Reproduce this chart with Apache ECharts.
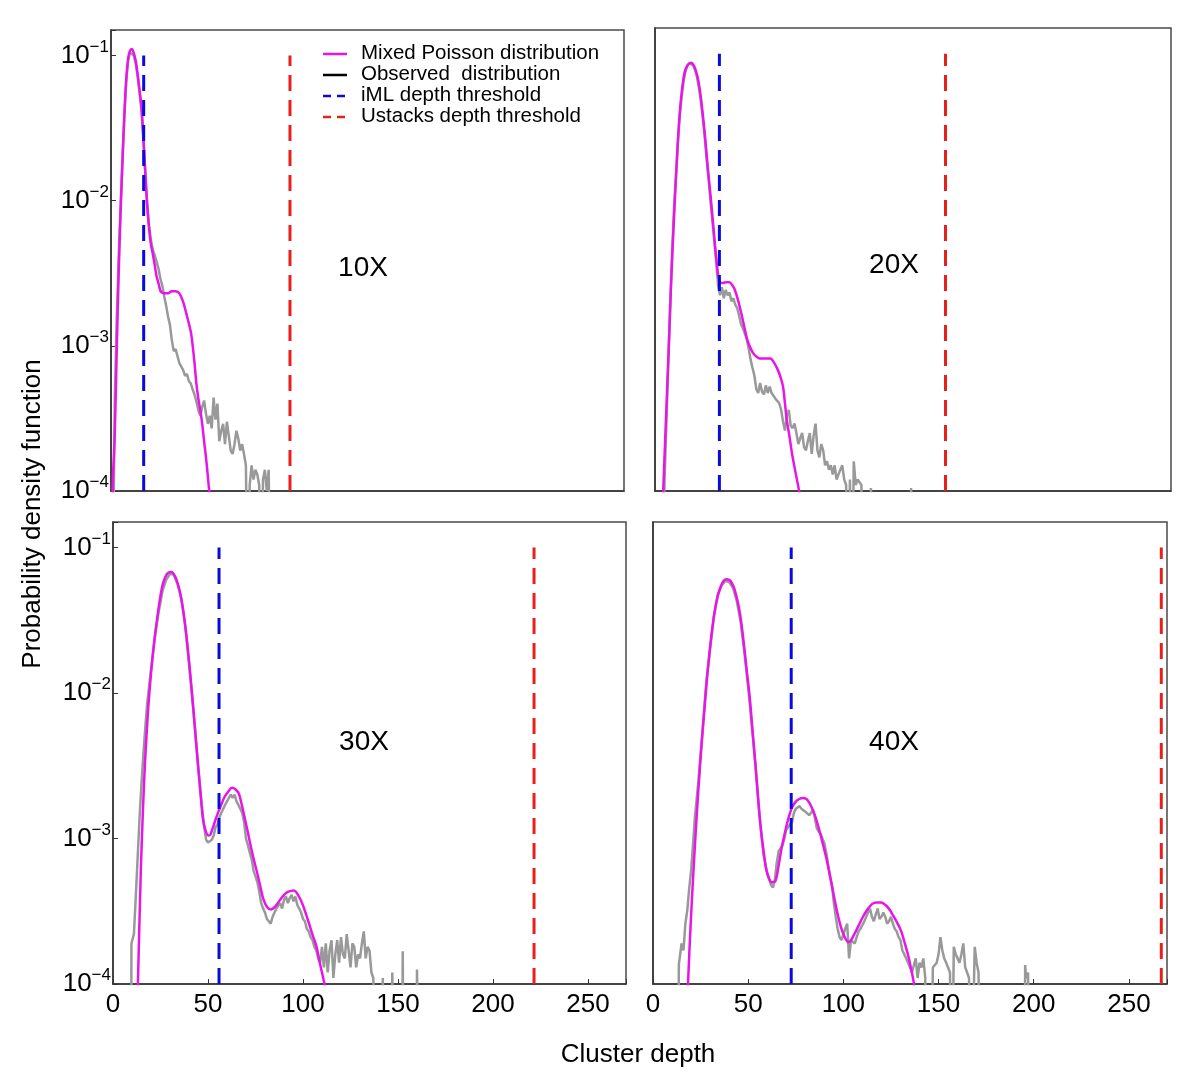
<!DOCTYPE html>
<html>
<head>
<meta charset="utf-8">
<script src="https://cdn.jsdelivr.net/npm/echarts@6/dist/echarts.min.js"></script>
<style>
html,body{margin:0;padding:0;background:#fff;}
#chart{width:1200px;height:1091px;}
</style>
</head>
<body>
<div id="chart"></div>
<script>
// ---- Data ----
const panelLabels = ['10X', '20X', '30X', '40X'];
const imlThreshold = [17.2, 33.7, 55.8, 72.6];
const ustacksThreshold = [94.2, 152, 221.6, 267];
const xTicks = [0, 50, 100, 150, 200, 250];
const yTickExponents = [-1, -2, -3, -4];

const mixed10 = [[0.6,5e-5],[1,1.2e-4],[2,2.5e-4],[3,9e-4],[4,3e-3],[5,8e-3],[6,0.018],[7,0.038],[8,0.068],[9,0.095],[10,0.108],[11,0.111],[12,0.104],[13,0.092],[14,0.075],[15,0.058],[16,0.045],[17,0.028],[18,0.016],[19,0.0095],[20,0.0065],[21,0.005],[22,0.0043],[23,0.0036],[24,0.003],[25,0.0027],[26,0.0024],[27,0.00232],[28,0.0023],[30,0.0023],[32,0.00238],[34,0.00238],[36,0.0023],[38,0.002],[40,0.0016],[42,0.00125],[43,0.001],[44,7.5e-4],[45,5.4e-4],[46,4.3e-4],[47,3.6e-4],[48,2.9e-4],[49,2.2e-4],[50,1.7e-4],[51,1.25e-4],[52,9e-5],[53,6e-5]];
const observed10 = [[1,1e-5],[1.5,1e-4],[2,4.4e-4],[3,1.5e-3],[4,4e-3],[5,9e-3],[6,0.019],[7,0.038],[8,0.066],[9,0.092],[10,0.105],[11,0.108],[12,0.1],[13,0.088],[14,0.072],[15,0.056],[16,0.042],[17,0.027],[18,0.016],[19,0.0098],[20,0.0068],[21,0.0054],[22,0.0046],[23,0.0042],[24,0.0038],[25,0.0034],[26,0.0029],[27,0.0026],[28,0.0022],[29,0.0019],[30,0.0016],[31,0.0014],[32,0.0011],[33,0.00092],[34,0.00095],[35,0.00085],[36,0.00076],[37,0.00072],[38,0.00068],[39,0.00062],[40,0.00064],[41,0.00057],[42,0.00055],[43,0.0005],[44,0.00046],[45,0.00041],[46,0.00036],[47,0.00033],[48,0.00038],[49,0.00042],[50,0.00034],[51,0.00029],[52,0.00033],[53,0.00027],[54,0.00044],[55,0.00031],[56,0.0004],[57,0.00022],[58,0.00026],[59,0.00029],[60,0.00021],[61,0.0003],[62,0.00024],[63,0.00019],[64,0.00018],[65,0.00021],[66,0.00026],[67,0.00023],[68,0.00019],[69,0.00021],[70,0.00018],[71,0.00015],[72,1e-5],[73,0.00011],[74,0.00015],[75,0.00012],[76,0.00014],[77,0.00013],[78,0.00011],[79,1e-5],[80,0.00012],[81,0.00014],[82,0.0001],[83,0.00014],[84,1e-5]];

const mixed20 = [[3.5,5e-5],[4.3,1e-4],[5.5,2.6e-4],[7.1,8.9e-4],[8.5,2.8e-3],[9.9,0.0073],[11.3,0.017],[12.7,0.0356],[14.1,0.056],[15.5,0.0746],[17.2,0.084],[18.9,0.0867],[20.5,0.082],[22.1,0.0708],[23.5,0.056],[24.9,0.0396],[26.3,0.026],[27.7,0.0161],[29.1,0.0105],[30.5,0.00658],[31.7,0.0044],[32.9,0.00313],[34,0.0027],[35.2,0.00267],[37,0.0027],[38.9,0.0027],[40.3,0.0026],[41.7,0.00241],[43.6,0.002],[45.5,0.00158],[46.9,0.0013],[48.3,0.00109],[50.2,9.4e-4],[52,8.6e-4],[54,8.2e-4],[55.8,8.1e-4],[58,8.1e-4],[60.4,8.1e-4],[62.3,7.6e-4],[64.2,6.8e-4],[65.6,6.1e-4],[67,5.2e-4],[68,4e-4],[68.9,3.1e-4],[70.3,2.4e-4],[71.7,1.8e-4],[73.5,1.35e-4],[75.4,1e-4],[76.5,8e-5]];
const observed20 = [[4,1e-5],[5,1.2e-4],[6,3e-4],[7,8e-4],[8,2e-3],[9,4.5e-3],[10,9e-3],[11,0.015],[12,0.025],[13,0.038],[14,0.052],[15,0.065],[16,0.076],[17,0.083],[18,0.086],[19,0.086],[20,0.083],[21,0.077],[22,0.069],[23,0.058],[24,0.047],[25,0.036],[26,0.027],[27,0.019],[28,0.014],[29,0.0098],[30,0.0072],[31,0.0052],[32,0.0038],[33,0.0026],[34,0.0022],[35,0.0025],[36,0.0021],[37,0.0024],[38,0.0022],[39,0.0023],[40,0.002],[41,0.0021],[42,0.0019],[43,0.0018],[44,0.0016],[45,0.0014],[46,0.0013],[47,0.0012],[48,0.0011],[49,0.00095],[50,0.0008],[51,0.0007],[52,0.00062],[53,0.0005],[54,0.00047],[55,0.00055],[56,0.00048],[57,0.00046],[58,0.00053],[59,0.00047],[60,0.00052],[61,0.00047],[62,0.00045],[63,0.00043],[64,0.00042],[65,0.0004],[66,0.00036],[67,0.0003],[68,0.00026],[69,0.00033],[70,0.00036],[71,0.00028],[72,0.00027],[73,0.00029],[74,0.00025],[75,0.00021],[76,0.00023],[77,0.00025],[78,0.0002],[79,0.00019],[80,0.00022],[81,0.00025],[82,0.00018],[83,0.00024],[84,0.00029],[85,0.00019],[86,0.00017],[87,0.00021],[88,0.00019],[89,0.00015],[90,0.00016],[91,0.00014],[92,0.00015],[93,0.00013],[94,0.00015],[95,0.00012],[96,0.00013],[97,0.00014],[98,0.00015],[99,0.00012],[100,0.00011],[101,1e-5],[102,0.00012],[103,1e-5],[104,0.00016],[105,0.00011],[106,0.00012],[107,0.00012],[108,0.00011],[109,1e-5],[112,1e-5],[113,0.000105],[114,1e-5],[133,1e-5],[134,0.000105],[135,1e-5]];

const mixed30 = [[12.5,5e-5],[13.1,1e-4],[14.6,5.8e-4],[15.7,1.5e-3],[16.8,0.00324],[18.4,0.0074],[20,0.0136],[21.6,0.022],[23.2,0.0322],[24.8,0.045],[26.4,0.0573],[28.5,0.066],[30.7,0.0681],[32.8,0.063],[35,0.051],[36.7,0.039],[38.3,0.0271],[39.9,0.0172],[41.5,0.0102],[43.1,0.0058],[44.7,0.00324],[46,0.0021],[47.3,0.00137],[48.7,0.00114],[50.1,0.00105],[51.2,0.00106],[52.2,0.00115],[53.8,0.00133],[55.5,0.00153],[57.1,0.00173],[58.7,0.00193],[60.6,0.0021],[62.6,0.00223],[64.4,0.00218],[66.2,0.00204],[67.8,0.0017],[69.4,0.00137],[71,0.0011],[72.7,8.6e-4],[74.3,7e-4],[75.9,5.8e-4],[77.5,4.7e-4],[79.1,3.85e-4],[81,3.4e-4],[83,3.25e-4],[85.3,3.4e-4],[87.7,3.75e-4],[90,4.1e-4],[92,4.3e-4],[95.2,4.4e-4],[98.5,3.85e-4],[100.6,3.3e-4],[102.8,2.7e-4],[104.9,2.2e-4],[107,1.83e-4],[109.1,1.35e-4],[111.3,1e-4],[112.5,8e-5]];
const observed30 = [[9.5,1e-5],[9.7,1.9e-4],[10,1.9e-4],[11,2.2e-4],[12,4e-4],[13,7.5e-4],[14,1.4e-3],[15,2.4e-3],[16,3.8e-3],[17,5.8e-3],[18,8.5e-3],[20,0.0145],[22,0.024],[24,0.036],[26,0.05],[28,0.06],[30,0.066],[32,0.065],[34,0.056],[36,0.044],[38,0.029],[40,0.016],[42,0.0085],[44,0.0042],[46,0.0021],[48,0.0012],[49,0.00098],[50,0.00094],[51,0.00093],[52,0.00098],[53,0.00105],[54,0.0012],[55,0.00125],[56,0.0014],[57,0.0015],[58,0.0016],[59,0.0017],[60,0.0018],[61,0.0019],[62,0.002],[63,0.0019],[64,0.002],[65,0.0018],[66,0.0017],[67,0.0016],[68,0.0015],[69,0.0013],[70,0.001],[71,0.0009],[72,0.0008],[73,0.00072],[74,0.0006],[75,0.00055],[76,0.0005],[77,0.00043],[78,0.00036],[79,0.00033],[80,0.00031],[81,0.00028],[82,0.00027],[83,0.00026],[84,0.00029],[85,0.00031],[86,0.00033],[87,0.00034],[88,0.00036],[89,0.00033],[90,0.00038],[91,0.0004],[92,0.00036],[93,0.00039],[94,0.00041],[95,0.00037],[96,0.0004],[97,0.00035],[98,0.00033],[99,0.00031],[100,0.00028],[101,0.00027],[102,0.00024],[103,0.00023],[104,0.00021],[105,0.0002],[106,0.00018],[107,0.00017],[108,0.00015],[109,0.00014],[110,0.00018],[111,0.00013],[112,0.00019],[113,0.00012],[114,0.00017],[115,0.0002],[116,0.00011],[117,0.00016],[118,0.0002],[119,0.00014],[120,0.00021],[121,0.00016],[122,0.00015],[123,0.00022],[124,0.00017],[125,0.00013],[126,0.00019],[127,0.00018],[128,0.00013],[129,0.00016],[130,0.00015],[131,0.00019],[132,0.00023],[133,0.00015],[134,0.00018],[135,0.00017],[136,0.00012],[137,0.00011],[138,0.00011],[139,1e-5],[141,1e-5],[142,0.00011],[143,1e-5],[146,1e-5],[147,0.00012],[148,1e-5],[152,1e-5],[152.5,0.000168],[153,1e-5],[159.5,1e-5],[160,0.000126],[161,1e-5]];

const mixed40 = [[17.8,5e-5],[18.4,1e-4],[19.8,2.6e-4],[21.2,5.8e-4],[22.6,1.2e-3],[24.1,0.00243],[25.5,0.0044],[27,0.00766],[28.4,0.0127],[29.9,0.0203],[31.3,0.029],[32.7,0.0383],[34.1,0.047],[35.6,0.054],[37.1,0.0592],[38.7,0.0607],[40.5,0.0595],[42.3,0.054],[43.7,0.047],[45.2,0.0383],[46.6,0.029],[48,0.0203],[49.4,0.0137],[50.9,0.0091],[52.3,0.0055],[53.8,0.00324],[55.2,0.0019],[56.7,0.00115],[58.1,8.2e-4],[59.5,6.1e-4],[61,5.3e-4],[62.4,5e-4],[64.3,5.1e-4],[65.7,6.2e-4],[67.2,8.1e-4],[68.6,1e-3],[70.1,0.00122],[71.5,0.00143],[72.9,0.00162],[74.8,0.00178],[76.8,0.00187],[78.7,0.0019],[80.6,0.00187],[82,0.00177],[83.5,0.00162],[85.4,0.0014],[87.3,0.00115],[89.2,9.2e-4],[91.1,7.3e-4],[93,5.5e-4],[94.9,4.1e-4],[96.8,3.1e-4],[98.8,2.44e-4],[100.7,2.1e-4],[102.6,1.94e-4],[104,2e-4],[105.5,2.17e-4],[107.9,2.5e-4],[110.3,2.9e-4],[112.6,3.25e-4],[115,3.54e-4],[117.4,3.64e-4],[119.8,3.64e-4],[122.7,3.44e-4],[124.6,3.2e-4],[126.5,2.9e-4],[128.5,2.6e-4],[130.4,2.3e-4],[132.3,1.9e-4],[134.2,1.54e-4],[135.7,1.25e-4],[137.1,1e-4],[138,8e-5]];
const observed40 = [[13,1e-5],[13.6,1.37e-4],[14,1.5e-4],[15,1.9e-4],[16,1.7e-4],[17,2.6e-4],[18,3.2e-4],[19,4.5e-4],[20,6e-4],[21,9e-4],[22,1.4e-3],[24,2.6e-3],[26,5.5e-3],[28,0.012],[30,0.02],[32,0.034],[34,0.047],[36,0.055],[38,0.059],[40,0.058],[42,0.053],[44,0.043],[46,0.031],[48,0.019],[50,0.011],[52,0.0058],[54,0.003],[56,0.0014],[58,0.00078],[60,0.00058],[62,0.00048],[63,0.00046],[64,0.00052],[65,0.00068],[66,0.00082],[67,0.00086],[68,0.0009],[69,0.001],[70,0.00115],[71,0.0012],[72,0.00125],[73,0.0013],[74,0.0015],[75,0.0016],[76,0.00165],[77,0.00167],[78,0.0016],[79,0.00158],[80,0.00153],[81,0.0015],[82,0.00145],[83,0.0015],[84,0.00158],[85,0.0014],[86,0.00118],[87,0.00112],[88,0.00108],[89,0.001],[90,0.00093],[91,0.0008],[92,0.00066],[93,0.00055],[94,0.00048],[95,0.00036],[96,0.00029],[97,0.00024],[98,0.00021],[99,0.0002],[100,0.0002],[101,0.00024],[102,0.00026],[103,0.00015],[104,0.0002],[105,0.0002],[106,0.00019],[107,0.00021],[108,0.00023],[109,0.00024],[110,0.00024],[111,0.00027],[112,0.00029],[113,0.00031],[114,0.00033],[115,0.00029],[116,0.00027],[117,0.0003],[118,0.00033],[119,0.00028],[120,0.00029],[121,0.00031],[122,0.00029],[123,0.00026],[124,0.00027],[125,0.00029],[126,0.00026],[127,0.00024],[128,0.00023],[129,0.00021],[130,0.0002],[131,0.00017],[132,0.00016],[133,0.00015],[134,0.00014],[135,0.00013],[136,0.00012],[137,0.00012],[138,0.00015],[139,0.00011],[140,0.00014],[141,0.00013],[142,0.00015],[143,0.00011],[144,1e-5],[146,1e-5],[147,0.00013],[148,0.00013],[149,0.00014],[150,0.00016],[151,0.00021],[152,0.00017],[153,0.00015],[154,0.00014],[155,0.00014],[156,0.00012],[157,1e-5],[158,0.00018],[159,0.00016],[160,0.00015],[161,0.00014],[162,0.00016],[163,0.00019],[164,0.00013],[165,0.00012],[166,0.00011],[167,1e-5],[168,1e-5],[169,0.00018],[170,0.00014],[171,0.00012],[172,1e-5],[195,1e-5],[195.5,0.000135],[196,0.00011],[197,0.00012],[198,1e-5]];

const mixedSets = [mixed10, mixed20, mixed30, mixed40];
const observedSets = [observed10, observed20, observed30, observed40];
const legendNames = ['Mixed Poisson distribution', 'Observed  distribution', 'iML depth threshold', 'Ustacks depth threshold'];

// ---- Layout / style ----
const FONT = '"Liberation Sans", Arial, Helvetica, sans-serif';
const C_MIX = '#e815e8', C_OBS = '#999999', C_IML = '#0a0ae0', C_UST = '#e8201c';
const grids = [
  {left: 111, top: 30, width: 513, height: 461},
  {left: 655, top: 28, width: 516, height: 463},
  {left: 113, top: 522, width: 513, height: 462},
  {left: 653, top: 522, width: 514, height: 462}
];
const showX = [false, false, true, true];
const showY = [true, false, true, false];
const Y_MIN = 1e-4, Y_MAX = 0.15, Y_LINE_TOP = 0.1;

const option = {
  backgroundColor: '#fff',
  animation: false,
  textStyle: {fontFamily: FONT},
  grid: grids.map(g => Object.assign({show: true, borderColor: '#4a4a4a', borderWidth: 1.5, containLabel: false}, g)),
  xAxis: grids.map((g, i) => ({
    type: 'value', gridIndex: i, min: 0, max: 270, interval: 50,
    axisLine: {show: true, lineStyle: {color: '#333', width: 1.5}},
    axisTick: {show: showX[i], inside: true, length: 5, lineStyle: {color: '#333'}},
    axisLabel: {show: showX[i], fontSize: 26, color: '#000', margin: 8, fontFamily: FONT,
      formatter: v => (xTicks.indexOf(Math.round(v)) >= 0 && Math.abs(v - Math.round(v)) < 1e-6) ? String(Math.round(v)) : ''},
    splitLine: {show: false}
  })),
  yAxis: grids.map((g, i) => ({
    type: 'log', logBase: 10, gridIndex: i, min: Y_MIN, max: Y_MAX,
    axisLine: {show: true, lineStyle: {color: '#333', width: 1.5}},
    axisTick: {show: showY[i], inside: true, length: 5, lineStyle: {color: '#333'}},
    axisLabel: {show: showY[i], margin: 2, color: '#000', fontFamily: FONT,
      formatter: v => {
        const l = Math.log10(v), e = Math.round(l);
        if (Math.abs(l - e) > 1e-6 || yTickExponents.indexOf(e) < 0) return '';
        return '{b|10}{s|\u2212' + (-e) + '}';
      },
      rich: {
        b: {fontSize: 26, lineHeight: 34, fontFamily: FONT, color: '#000'},
        s: {fontSize: 17, lineHeight: 17, verticalAlign: 'top', fontFamily: FONT, color: '#000'}
      }
    },
    splitLine: {show: false}
  })),
  series: [],
  graphic: []
};

for (let i = 0; i < 4; i++) {
  option.series.push({
    type: 'line', name: legendNames[1], xAxisIndex: i, yAxisIndex: i, data: observedSets[i],
    showSymbol: false, symbol: 'none', clip: true, z: 2,
    lineStyle: {color: C_OBS, width: 2.5}
  });
  option.series.push({
    type: 'line', name: legendNames[0], xAxisIndex: i, yAxisIndex: i, data: mixedSets[i],
    showSymbol: false, symbol: 'none', clip: true, smooth: 0.3, z: 3,
    lineStyle: {color: C_MIX, width: 2.5}
  });
  option.series.push({
    type: 'line', name: legendNames[2], xAxisIndex: i, yAxisIndex: i,
    data: [[imlThreshold[i], Y_MIN], [imlThreshold[i], Y_LINE_TOP]],
    showSymbol: false, symbol: 'none', clip: true, z: 4,
    lineStyle: {color: C_IML, width: 3, type: [16, 9]}
  });
  option.series.push({
    type: 'line', name: legendNames[3], xAxisIndex: i, yAxisIndex: i,
    data: [[ustacksThreshold[i], Y_MIN], [ustacksThreshold[i], Y_LINE_TOP]],
    showSymbol: false, symbol: 'none', clip: true, z: 4,
    lineStyle: {color: C_UST, width: 3, type: [16, 9]}
  });
}

// panel labels
const labelPos = [[363, 268], [894, 265], [364, 742], [894, 742]];
panelLabels.forEach((t, i) => {
  option.graphic.push({type: 'text', x: labelPos[i][0], y: labelPos[i][1], z: 10,
    style: {text: t, font: '28px ' + FONT, fill: '#000', textAlign: 'center', textVerticalAlign: 'middle'}});
});
// axis titles
option.graphic.push({type: 'text', x: 33, y: 514, rotation: Math.PI / 2, z: 10,
  style: {text: 'Probability density function', font: '26px ' + FONT, fill: '#000', textAlign: 'center', textVerticalAlign: 'middle'}});
option.graphic.push({type: 'text', x: 638, y: 1055, z: 10,
  style: {text: 'Cluster depth', font: '26px ' + FONT, fill: '#000', textAlign: 'center', textVerticalAlign: 'middle'}});

// legend (drawn as graphics)
const legendColors = [C_MIX, '#000', C_IML, C_UST];
const legendDash = [null, null, [8, 6], [8, 6]];
legendNames.forEach((n, k) => {
  const y = 54 + k * 21;
  option.graphic.push({type: 'line', z: 10, shape: {x1: 323, y1: y, x2: 347, y2: y},
    style: {stroke: legendColors[k], lineWidth: 2.5, lineDash: legendDash[k]}});
  option.graphic.push({type: 'text', x: 361, y: y - 1, z: 10,
    style: {text: n, font: '20.5px ' + FONT, fill: '#000', textAlign: 'left', textVerticalAlign: 'middle'}});
});

const chart = echarts.init(document.getElementById('chart'), null, {renderer: 'canvas'});
chart.setOption(option);
</script>
</body>
</html>
